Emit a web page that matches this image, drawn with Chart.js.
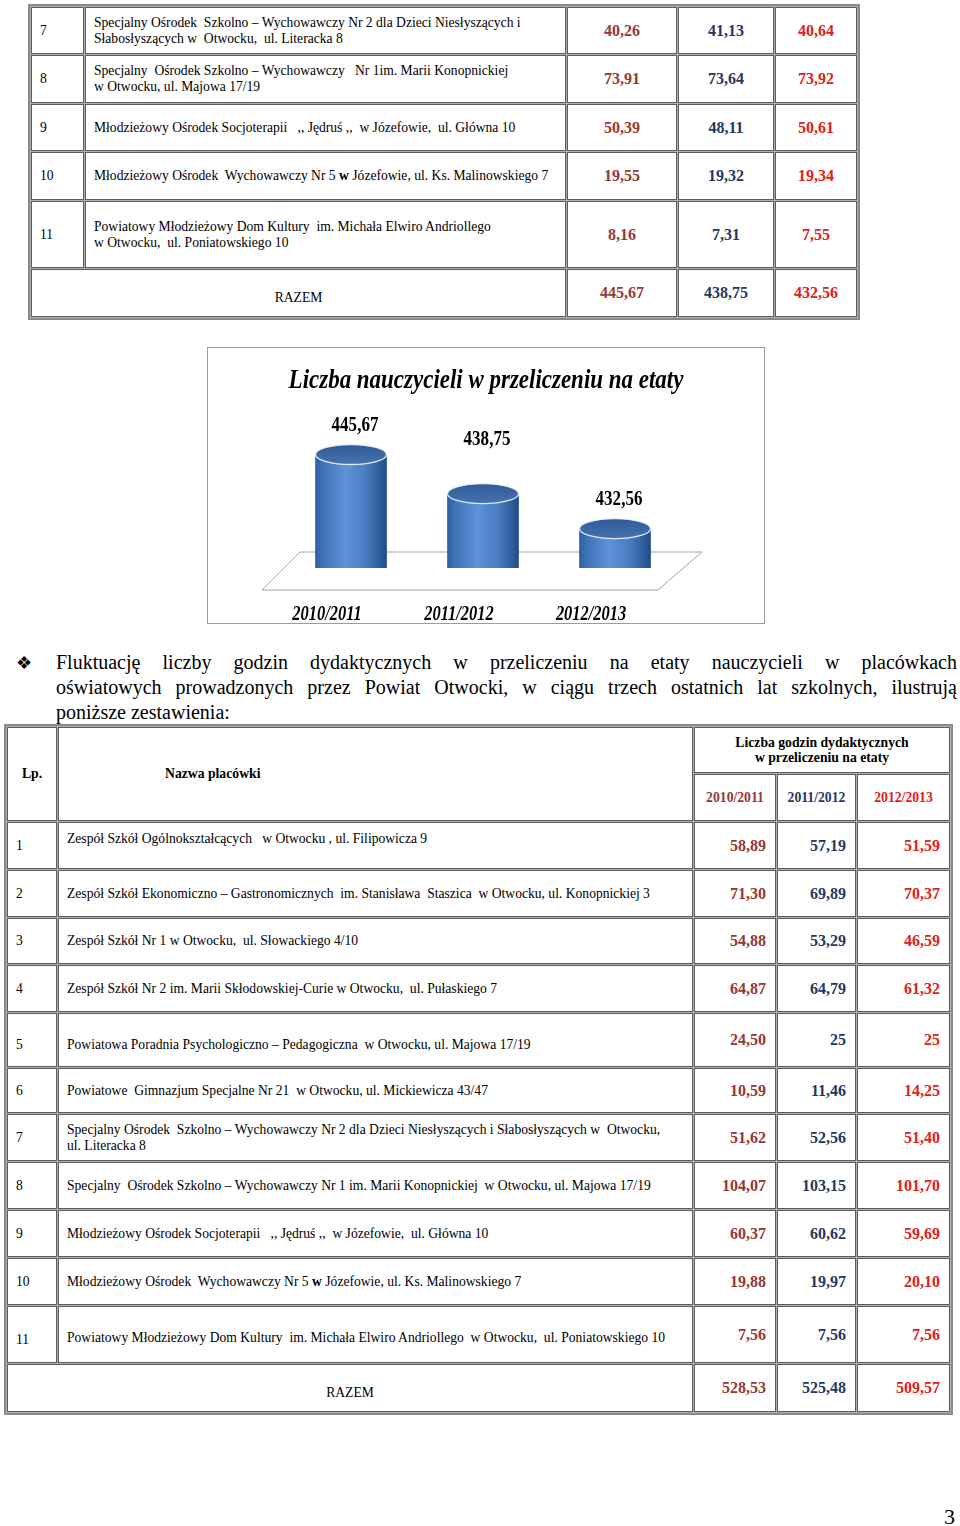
<!DOCTYPE html>
<html lang="pl">
<head>
<meta charset="utf-8">
<title>Liczba nauczycieli w przeliczeniu na etaty</title>
<script src="https://cdn.jsdelivr.net/npm/chart.js@4.4.1/dist/chart.umd.min.js"></script>
<style>
  html, body { margin: 0; padding: 0; background: #fff; }
  body {
    width: 960px; height: 1526px; position: relative; overflow: hidden;
    font-family: "Liberation Serif", "Times New Roman", serif; color: #000;
  }
  table.grid {
    position: absolute; table-layout: fixed;
    border-collapse: separate; border-spacing: 1px;
    border: 2px solid #8a8a8a; background: #b0b0b0;
  }
  table.grid td {
    border: 1px solid #5c5c5c; background: #fff;
    font-size: 13.6px; line-height: 16px;
    padding: 0 8px; vertical-align: middle; overflow: hidden;
  }
  table.grid td.name { white-space: pre-wrap; }
  table.grid td.v { font-size: 16px; font-weight: bold; }
  table.grid td.ctr { text-align: center; }
  table.grid td.rt { text-align: right; padding-right: 9px; }
  table.grid td.hb { font-weight: bold; font-size: 13.7px; }
  .c1 { color: #953735; }
  .c2 { color: #1f3864; }
  .c3 { color: #e0201b; }
  #chartBox {
    position: absolute; left: 207px; top: 347px;
    width: 556px; height: 275px; border: 1px solid #9c9c9c;
  }
  .bullet { position: absolute; left: 16px; top: 650px; font: 18px/25px "DejaVu Sans"; }
  .para { position: absolute; left: 56px; top: 650px; width: 901px; font-size: 20px; line-height: 25px; }
  .just { text-align: justify; text-align-last: justify; }
  .page { position: absolute; left: 944px; top: 1506px; font-size: 22px; line-height: 22px; }
</style>
</head>
<body>

<table class="grid" id="t1" style="left:28px; top:4px; width:832px;">
  <colgroup>
    <col style="width:53px"><col style="width:481px"><col style="width:110px"><col style="width:96px"><col style="width:82px">
  </colgroup>
  <tbody></tbody>
</table>

<div id="chartBox"><canvas id="chart"></canvas></div>

<div class="bullet">❖</div>
<div class="para">
  <div class="just">Fluktuację liczby godzin dydaktycznych w przeliczeniu na etaty nauczycieli w placówkach</div>
  <div class="just">oświatowych prowadzonych przez Powiat Otwocki, w ciągu trzech ostatnich lat szkolnych, ilustrują</div>
  <div>poniższe zestawienia:</div>
</div>

<table class="grid" id="t2" style="left:4px; top:724px; width:947px;">
  <colgroup>
    <col style="width:50px"><col style="width:635px"><col style="width:82px"><col style="width:79px"><col style="width:93px">
  </colgroup>
  <tbody>
    <tr style="height:46px">
      <td rowspan="2" class="hb ctr">Lp.</td>
      <td rowspan="2" class="hb" style="padding-left:106px">Nazwa placówki</td>
      <td colspan="3" class="hb ctr" style="line-height:15px">Liczba godzin dydaktycznych<br>w przeliczeniu na etaty</td>
    </tr>
    <tr style="height:47px" id="yearsRow"></tr>
  </tbody>
</table>

<div class="page">3</div>

<script>
// wykres: liczba nauczycieli w przeliczeniu na etaty (razem)
const years = ['2010/2011', '2011/2012', '2012/2013'];
const teachers = [445.67, 438.75, 432.56];

// tabela 1 - etaty nauczycieli, lp. 7-11
const unitNo = ['7', '8', '9', '10', '11'];
const unitNames = [
  'Specjalny Ośrodek  Szkolno – Wychowawczy Nr 2 dla Dzieci Niesłyszących i\nSłabosłyszących w  Otwocku,  ul. Literacka 8',
  'Specjalny  Ośrodek Szkolno – Wychowawczy   Nr 1im. Marii Konopnickiej\nw Otwocku, ul. Majowa 17/19',
  'Młodzieżowy Ośrodek Socjoterapii   ,, Jędruś ,,  w Józefowie,  ul. Główna 10',
  'Młodzieżowy Ośrodek  Wychowawczy Nr 5 <b>w</b> Józefowie, ul. Ks. Malinowskiego 7',
  'Powiatowy Młodzieżowy Dom Kultury  im. Michała Elwiro Andriollego\nw Otwocku,  ul. Poniatowskiego 10'
];
const etaty1011 = [40.26, 73.91, 50.39, 19.55, 8.16];
const etaty1112 = [41.13, 73.64, 48.11, 19.32, 7.31];
const etaty1213 = [40.64, 73.92, 50.61, 19.34, 7.55];

// tabela 2 - godziny dydaktyczne w przeliczeniu na etaty
const schoolNames = [
  'Zespół Szkół Ogólnokształcących   w Otwocku , ul. Filipowicza 9',
  'Zespół Szkół Ekonomiczno – Gastronomicznych  im. Stanisława  Staszica  w Otwocku, ul. Konopnickiej 3',
  'Zespół Szkół Nr 1 w Otwocku,  ul. Słowackiego 4/10',
  'Zespół Szkół Nr 2 im. Marii Skłodowskiej-Curie w Otwocku,  ul. Pułaskiego 7',
  'Powiatowa Poradnia Psychologiczno – Pedagogiczna  w Otwocku, ul. Majowa 17/19',
  'Powiatowe  Gimnazjum Specjalne Nr 21  w Otwocku, ul. Mickiewicza 43/47',
  'Specjalny Ośrodek  Szkolno – Wychowawczy Nr 2 dla Dzieci Niesłyszących i Słabosłyszących w  Otwocku,\nul. Literacka 8',
  'Specjalny  Ośrodek Szkolno – Wychowawczy Nr 1 im. Marii Konopnickiej  w Otwocku, ul. Majowa 17/19',
  'Młodzieżowy Ośrodek Socjoterapii   ,, Jędruś ,,  w Józefowie,  ul. Główna 10',
  'Młodzieżowy Ośrodek  Wychowawczy Nr 5 <b>w</b> Józefowie, ul. Ks. Malinowskiego 7',
  'Powiatowy Młodzieżowy Dom Kultury  im. Michała Elwiro Andriollego  w Otwocku,  ul. Poniatowskiego 10'
];
const godz1011 = [58.89, 71.30, 54.88, 64.87, 24.50, 10.59, 51.62, 104.07, 60.37, 19.88, 7.56];
const godz1112 = [57.19, 69.89, 53.29, 64.79, 25, 11.46, 52.56, 103.15, 60.62, 19.97, 7.56];
const godz1213 = [51.59, 70.37, 46.59, 61.32, 25, 14.25, 51.40, 101.70, 59.69, 20.10, 7.56];
const godzRazem = [528.53, 525.48, 509.57];

function fmt(v) {
  return Number.isInteger(v) ? String(v) : v.toFixed(2).replace('.', ',');
}

// --- tabela 1
const t1Rows = [47, 48, 47, 48, 67];
const t1 = document.querySelector('#t1 tbody');
unitNames.forEach((name, i) => {
  const tr = document.createElement('tr');
  tr.style.height = t1Rows[i] + 'px';
  tr.innerHTML = '<td>' + unitNo[i] + '</td><td class="name">' + name + '</td>' +
    '<td class="v ctr c1">' + fmt(etaty1011[i]) + '</td>' +
    '<td class="v ctr c2">' + fmt(etaty1112[i]) + '</td>' +
    '<td class="v ctr c3">' + fmt(etaty1213[i]) + '</td>';
  t1.appendChild(tr);
});
const t1Sum = document.createElement('tr');
t1Sum.style.height = '48px';
t1Sum.innerHTML = '<td colspan="2" class="ctr" style="padding-top:10px">RAZEM</td>' +
  teachers.map((v, j) => '<td class="v ctr c' + (j + 1) + '">' + fmt(v) + '</td>').join('');
t1.appendChild(t1Sum);

// --- tabela 2
document.getElementById('yearsRow').innerHTML =
  years.map((y, j) => '<td class="hb ctr c' + (j + 1) + '">' + y + '</td>').join('');
const t2Rows = [47, 47, 46, 47, 54, 45, 47, 47, 47, 47, 57];
const t2Pad = { 0: 'vertical-align:top;padding-top:8px', 4: 'padding-top:10px', 10: 'padding-top:6px' };
const t2 = document.querySelector('#t2 tbody');
schoolNames.forEach((name, i) => {
  const tr = document.createElement('tr');
  tr.style.height = t2Rows[i] + 'px';
  const extra = t2Pad[i] || '';
  tr.innerHTML = '<td style="' + (i === 4 || i === 10 ? 'padding-top:10px' : '') + '">' + (i + 1) + '</td>' +
    '<td class="name" style="' + extra + '">' + name + '</td>' +
    '<td class="v rt c1">' + fmt(godz1011[i]) + '</td>' +
    '<td class="v rt c2">' + fmt(godz1112[i]) + '</td>' +
    '<td class="v rt c3">' + fmt(godz1213[i]) + '</td>';
  t2.appendChild(tr);
});
const t2Sum = document.createElement('tr');
t2Sum.style.height = '48px';
t2Sum.innerHTML = '<td colspan="2" class="ctr" style="padding-top:10px">RAZEM</td>' +
  godzRazem.map((v, j) => '<td class="v rt c' + (j + 1) + '">' + fmt(v) + '</td>').join('');
t2.appendChild(t2Sum);

// --- wykres
const BAR_W = 71;

function bodyGradient(ctx, cx, r) {
  const g = ctx.createLinearGradient(cx - r, 0, cx + r, 0);
  g.addColorStop(0, '#2e5e9c');
  g.addColorStop(0.1, '#3f72b6');
  g.addColorStop(0.42, '#5d93da');
  g.addColorStop(0.7, '#4a7dc2');
  g.addColorStop(0.92, '#2d5b98');
  g.addColorStop(1, '#1f4a84');
  return g;
}

function squeezed(ctx, text, x, y, font, sx) {
  ctx.save();
  ctx.font = font;
  ctx.fillStyle = '#000';
  ctx.textAlign = 'center';
  ctx.textBaseline = 'alphabetic';
  ctx.translate(x, y);
  ctx.scale(sx, 1);
  ctx.fillText(text, 0, 0);
  ctx.restore();
}

const cylinders = {
  id: 'cylinders',
  beforeDatasetsDraw(chart, args, opts) {
    const { ctx, chartArea: a } = chart;
    ctx.save();
    // podłoga wykresu 3d
    ctx.beginPath();
    ctx.moveTo(a.left + 15, a.bottom - 16);
    ctx.lineTo(a.right + 21, a.bottom - 16);
    ctx.lineTo(a.right - 23, a.bottom + 22);
    ctx.lineTo(a.left - 23, a.bottom + 22);
    ctx.closePath();
    ctx.strokeStyle = '#a3a3a3';
    ctx.lineWidth = 1;
    ctx.stroke();
    // cienie
    chart.getDatasetMeta(0).data.forEach(bar => {
      ctx.beginPath();
      ctx.ellipse(bar.x + 4, bar.base + 4, bar.width / 2 + 3, opts.ry + 2, 0, 0, Math.PI * 2);
      ctx.fillStyle = 'rgba(70,70,70,0.3)';
      ctx.filter = 'blur(3px)';
      ctx.fill();
      ctx.filter = 'none';
    });
    ctx.restore();
  },
  afterDatasetsDraw(chart, args, opts) {
    const { ctx } = chart;
    const values = chart.data.datasets[0].data;
    ctx.save();
    chart.getDatasetMeta(0).data.forEach((bar, i) => {
      const rx = bar.width / 2, ry = opts.ry;
      // dolna podstawa
      ctx.beginPath();
      ctx.ellipse(bar.x, bar.base, rx, ry, 0, 0, Math.PI);
      ctx.fillStyle = bodyGradient(ctx, bar.x, rx);
      ctx.fill();
      ctx.strokeStyle = 'rgba(200,215,240,0.6)';
      ctx.lineWidth = 1;
      ctx.stroke();
      // górna podstawa
      ctx.beginPath();
      ctx.ellipse(bar.x, bar.y, rx, ry, 0, 0, Math.PI * 2);
      const tg = ctx.createLinearGradient(0, bar.y - ry, 0, bar.y + ry);
      tg.addColorStop(0, '#2f5b96');
      tg.addColorStop(1, '#4673b1');
      ctx.fillStyle = tg;
      ctx.fill();
      ctx.strokeStyle = 'rgba(232,240,252,0.95)';
      ctx.lineWidth = 1.3;
      ctx.stroke();
      // etykieta wartości
      squeezed(ctx, fmt(values[i]), bar.x + 4, bar.y - opts.lift[i], 'bold 21px "Liberation Serif"', 0.81);
    });
    ctx.restore();
  },
  afterDraw(chart, args, opts) {
    const { ctx, width } = chart;
    squeezed(ctx, opts.title, width / 2, 40, 'bold italic 28px "Liberation Serif"', 0.82);
    const x = chart.scales.x;
    chart.data.labels.forEach((lab, i) => {
      squeezed(ctx, lab, x.getPixelForValue(i) - 24, 272, 'bold italic 20px "Liberation Serif"', 0.82);
    });
  }
};

new Chart(document.getElementById('chart'), {
  type: 'bar',
  data: {
    labels: years,
    datasets: [{
      label: 'Liczba nauczycieli w przeliczeniu na etaty',
      data: teachers,
      barThickness: BAR_W,
      borderWidth: 0,
      backgroundColor(c) {
        const chart = c.chart;
        if (c.dataIndex === undefined || !chart.chartArea || !chart.scales.x) return '#4a7dc2';
        return bodyGradient(chart.ctx, chart.scales.x.getPixelForValue(c.dataIndex), BAR_W / 2);
      }
    }]
  },
  options: {
    responsive: true,
    maintainAspectRatio: false,
    animation: false,
    devicePixelRatio: 1,
    layout: { padding: { left: 77, right: 83, top: 82, bottom: 55 } },
    scales: {
      x: { display: false, offset: true },
      y: { display: false, min: 425.6, max: 450 }
    },
    plugins: {
      legend: { display: false },
      tooltip: { enabled: false },
      cylinders: {
        ry: 10,
        lift: [23, 49, 24],
        title: 'Liczba nauczycieli w przeliczeniu na etaty'
      }
    }
  },
  plugins: [cylinders]
});
</script>
</body>
</html>
